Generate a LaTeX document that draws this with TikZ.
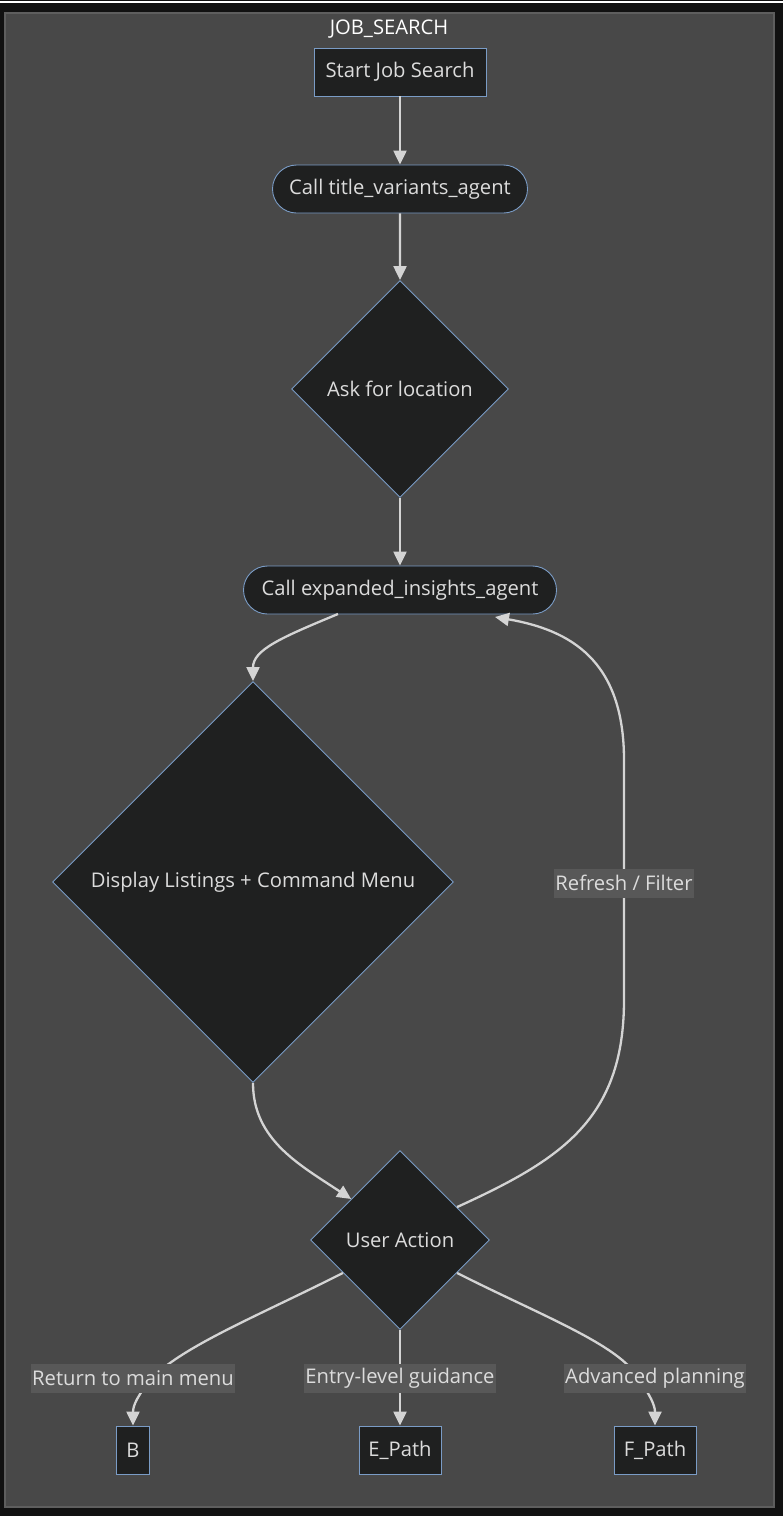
\documentclass[tikz,border=0pt]{standalone}
\usepackage{fontspec}
\setmainfont{Open Sans}
\usepackage{xcolor}
\usetikzlibrary{arrows.meta,shapes.geometric,shapes.misc}

\definecolor{pagebg}{HTML}{111111}
\definecolor{clusterbg}{HTML}{484848}
\definecolor{clusterline}{HTML}{5E5E5E}
\definecolor{nodebg}{HTML}{1F2020}
\definecolor{nodeline}{HTML}{7A9CC6}
\definecolor{linkcol}{HTML}{D4D4D4}
\definecolor{textcol}{HTML}{DCDCDC}
\definecolor{labelbg}{HTML}{585858}

\begin{document}
\begin{tikzpicture}[
        x=1pt, y=-1pt,
        boxstep/.style={
            draw=nodeline,
            fill=nodebg,
            text=textcol,
            font=\fontsize{20.2}{24}\selectfont,
            line width=0.9pt,
            inner sep=0pt,
            minimum height=48pt
        },
        roundstep/.style={
            boxstep,
            rounded rectangle
        },
        choice/.style={
            draw=nodeline,
            fill=nodebg,
            text=textcol,
            font=\fontsize{20.2}{24}\selectfont,
            line width=0.9pt,
            diamond,
            inner sep=0pt
        },
        linklabel/.style={
            fill=labelbg,
            text=textcol,
            font=\fontsize{20.2}{24}\selectfont,
            inner xsep=1pt,
            minimum height=29pt
        },
        arrow/.style={-{Triangle[length=14pt,width=13pt]}, draw=linkcol, line width=2.3pt}
    ]
        % canvas and cluster
        \useasboundingbox (0,0) rectangle (783,1516);
        \fill[pagebg] (0,0) rectangle (783,1516);
        \draw[white, line width=1.5pt] (0,2) -- (783,2);
        \draw[fill=clusterbg, draw=clusterline, line width=1.2pt] (5,13) rectangle (774,1507);
        \node[text=white, font=\fontsize{20.2}{24}\selectfont] (title) at (389,29) {JOB\_SEARCH};

        % nodes
        \node[boxstep, minimum width=172pt] (start) at (400,72) {Start Job Search};
        \node[roundstep, minimum width=313pt] (insights) at (400,590) {Call expanded\_insights\_agent};
        \node[roundstep, minimum width=255pt] (titles) at (400,189) {Call title\_variants\_agent};
        \node[choice, minimum size=217pt] (location) at (400,389) {Ask for location};
        \node[choice, minimum size=401pt] (listings) at (253,882) {Display Listings + Command Menu};
        \node[choice, minimum size=179pt] (action) at (400,1240) {User Action};
        \node[boxstep, minimum width=33pt] (menu) at (133,1450) {B};
        \node[boxstep, minimum width=82pt] (entry) at (400,1450) {E\_Path};
        \node[boxstep, minimum width=82pt] (advanced) at (655,1450) {F\_Path};

        % label spots
        \coordinate (refresh) at (624,883);
        \coordinate (back) at (133,1378);
        \coordinate (guide) at (400,1378);
        \coordinate (plan) at (655,1378);

        % links
        \draw[arrow] (start) -- (titles);
        \draw[arrow] (titles) -- (location);
        \draw[arrow] (location) -- (insights);
        \draw[arrow] (338,614) .. controls (280,638) and (253,650) .. (listings.north);
        \draw[arrow] (listings.south) .. controls (253,1140) and (300,1165) .. (action.140);
        \draw[arrow] (action.30) .. controls (560,1160) and (624,1120) .. (624,1000)
            -- (refresh) -- (624,760) .. controls (624,660) and (570,630) .. (495,617);
        \draw[arrow] (action.210) .. controls (260,1315) and (185,1345) .. (152,1378)
            .. controls (138,1395) and (133,1405) .. (menu.north);
        \draw[arrow] (action) -- (guide) -- (entry);
        \draw[arrow] (action.330) .. controls (540,1315) and (620,1345) .. (638,1378)
            .. controls (650,1395) and (655,1405) .. (advanced.north);

        % labels
        \node[linklabel] at (refresh) {Refresh / Filter};
        \node[linklabel] at (back) {Return to main menu};
        \node[linklabel] at (guide) {Entry-level guidance};
        \node[linklabel] at (plan) {Advanced planning};
    \end{tikzpicture}
\end{document}
